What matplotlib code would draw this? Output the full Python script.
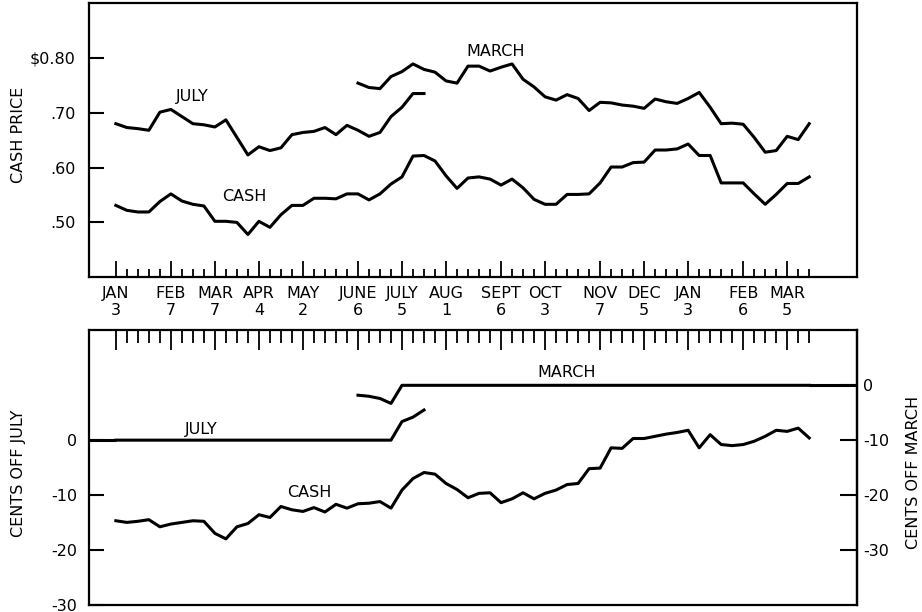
import numpy as np
import matplotlib.pyplot as plt

plt.rcParams.update({
    'font.family': 'DejaVu Sans',
    'font.size': 11.5,
    'axes.linewidth': 1.6,
    'lines.linewidth': 2.2,
    'lines.solid_joinstyle': 'round',
})

# Weekly quotations, week 0 = JAN 3
# Upper panel: prices in dollars
CASH = [0.531, 0.522, 0.519, 0.519, 0.538, 0.552, 0.539, 0.533, 0.530, 0.502,
        0.502, 0.500, 0.478, 0.502, 0.491, 0.514, 0.531, 0.531, 0.544, 0.544,
        0.543, 0.552, 0.552, 0.541, 0.552, 0.570, 0.583, 0.621, 0.622, 0.612,
        0.585, 0.562, 0.581, 0.583, 0.579, 0.568, 0.579, 0.563, 0.542, 0.533,
        0.533, 0.551, 0.551, 0.552, 0.572, 0.601, 0.601, 0.609, 0.610, 0.632,
        0.632, 0.634, 0.643, 0.622, 0.622, 0.572, 0.572, 0.572, 0.552, 0.533,
        0.551, 0.571, 0.571, 0.583]
JULY = [0.680, 0.673, 0.671, 0.668, 0.701, 0.706, 0.693, 0.680, 0.678, 0.674,
        0.687, 0.655, 0.623, 0.638, 0.631, 0.636, 0.660, 0.664, 0.666, 0.673,
        0.660, 0.677, 0.668, 0.657, 0.664, 0.693, 0.710, 0.735, 0.735]
MARCH_START = 22
MARCH = [0.754, 0.746, 0.744, 0.766, 0.775, 0.789, 0.779, 0.774, 0.758, 0.754,
         0.785, 0.785, 0.776, 0.783, 0.789, 0.761, 0.747, 0.729, 0.723, 0.733,
         0.726, 0.704, 0.719, 0.718, 0.714, 0.712, 0.708, 0.725, 0.720, 0.717,
         0.726, 0.737, 0.710, 0.680, 0.681, 0.679, 0.655, 0.628, 0.631, 0.657,
         0.651, 0.680]

# Lower panel: cents off July up to the switch week, cents off March after it
CASH_OFF_JULY = [-14.7, -15.0, -14.8, -14.5, -15.8, -15.3, -15.0, -14.7, -14.8,
                 -17.0, -18.0, -15.8, -15.2, -13.6, -14.1, -12.1, -12.7, -13.0,
                 -12.3, -13.1, -11.7, -12.4, -11.6, -11.5, -11.2, -12.4]
CASH_OFF_MARCH = [-19.1, -17.0, -15.9, -16.2, -17.9, -19.0, -20.5, -19.7, -19.6,
                  -21.4, -20.7, -19.6, -20.7, -19.7, -19.1, -18.1, -17.9, -15.2,
                  -15.1, -11.4, -11.5, -9.7, -9.7, -9.3, -8.9, -8.6, -8.2, -11.4,
                  -9.0, -10.8, -11.0, -10.8, -10.2, -9.3, -8.2, -8.4, -7.8, -9.6]
JULY_OFF_JULY = [0, 0, 0, 0, 0, 0, 0, 0, 0, 0, 0, 0, 0,
                 0, 0, 0, 0, 0, 0, 0, 0, 0, 0, 0, 0, 0]
JULY_OFF_MARCH = [-6.6, -5.8, -4.5]
MARCH_OFF_JULY = [8.2, 8.0, 7.6, 6.7]
MARCH_OFF_MARCH = [0, 0, 0, 0, 0, 0, 0, 0, 0, 0, 0, 0, 0, 0, 0, 0, 0, 0, 0,
                   0, 0, 0, 0, 0, 0, 0, 0, 0, 0, 0, 0, 0, 0, 0, 0, 0, 0, 0]

# Month ticks (week index) and labels
MONTH_WEEKS = [0, 5, 9, 13, 17, 22, 26, 30, 35, 39, 44, 48, 52, 57, 61]
MONTH_NAMES = ['JAN', 'FEB', 'MAR', 'APR', 'MAY', 'JUNE', 'JULY', 'AUG',
               'SEPT', 'OCT', 'NOV', 'DEC', 'JAN', 'FEB', 'MAR']
MONTH_DAYS = ['3', '7', '7', '4', '2', '6', '5', '1', '6', '3', '7', '5', '3',
              '6', '5']
N_WEEKS = 64

# right scale (cents off March) sits 10 cents below the left one
OFFSET = 10
XLIM = (-2.4, 67.3)

fig = plt.figure(figsize=(9.22, 6.12), dpi=100)
ax1 = fig.add_axes([0.097, 0.547, 0.832, 0.448])
ax2 = fig.add_axes([0.097, 0.012, 0.832, 0.448])

weeks = np.arange(N_WEEKS)

# ---- upper panel
ax1.plot(weeks, CASH, color='black')
ax1.plot(np.arange(len(JULY)), JULY, color='black')
ax1.plot(np.arange(MARCH_START, MARCH_START + len(MARCH)), MARCH, color='black')

ax1.set_xlim(*XLIM)
ax1.set_ylim(0.40, 0.90)
ax1.set_yticks([0.5, 0.6, 0.7, 0.8])
ax1.set_yticklabels(['.50', '.60', '.70', '\\$0.80'])
ax1.set_xticks(MONTH_WEEKS)
ax1.set_xticklabels([f'{m}\n{d}' for m, d in zip(MONTH_NAMES, MONTH_DAYS)],
                    linespacing=1.2)
ax1.set_xticks(weeks, minor=True)
ax1.tick_params(axis='y', direction='in', length=11, width=1.5, pad=10)
ax1.tick_params(axis='x', which='major', direction='in', length=11.5,
                width=1.3, pad=6)
ax1.tick_params(axis='x', which='minor', direction='in', length=6, width=1.3)
ax1.set_ylabel('CASH PRICE')
ax1.yaxis.set_label_coords(-0.083, 0.52)

ax1.text(6.9, 0.729, 'JULY', ha='center', va='center')
ax1.text(11.7, 0.548, 'CASH', ha='center', va='center')
ax1.text(34.5, 0.811, 'MARCH', ha='center', va='center')

# ---- lower panel
to_march = lambda y: y - OFFSET
to_july = lambda y: y + OFFSET
sec = ax2.secondary_yaxis('right', functions=(to_march, to_july))

cash_y = list(CASH_OFF_JULY) + [to_july(v) for v in CASH_OFF_MARCH]
ax2.plot(weeks, cash_y, color='black')

july_x = np.arange(len(JULY_OFF_JULY) + len(JULY_OFF_MARCH))
july_y = list(JULY_OFF_JULY) + [to_july(v) for v in JULY_OFF_MARCH]
ax2.plot(july_x, july_y, color='black')
ax2.hlines(JULY_OFF_JULY[0], XLIM[0], 0, color='black', linewidth=2.2)

march_x = np.arange(MARCH_START, MARCH_START + len(MARCH_OFF_JULY) + len(MARCH_OFF_MARCH))
march_y = list(MARCH_OFF_JULY) + [to_july(v) for v in MARCH_OFF_MARCH]
ax2.plot(march_x, march_y, color='black')
ax2.hlines(to_july(MARCH_OFF_MARCH[-1]), N_WEEKS - 1, XLIM[1], color='black',
           linewidth=2.2)

ax2.set_xlim(*XLIM)
ax2.set_ylim(-30, 20)
ax2.set_yticks([0, -10, -20, -30])
ax2.set_yticklabels(['0', '-10', '-20', '-30'])
sec.set_yticks([0, -10, -20, -30])
sec.set_yticklabels(['0', '-10', '-20', '-30'])
ax2.xaxis.tick_top()
ax2.set_xticks(MONTH_WEEKS)
ax2.set_xticks(weeks, minor=True)
ax2.tick_params(axis='x', which='major', direction='in', length=14.5,
                width=1.3, labeltop=False)
ax2.tick_params(axis='x', which='minor', direction='in', length=9.5, width=1.3)
ax2.tick_params(axis='y', direction='in', length=11, width=1.5, pad=9)
sec.tick_params(axis='y', direction='in', length=12, width=1.5, pad=5)
sec.spines['right'].set_linewidth(1.6)

ax2.set_ylabel('CENTS OFF JULY')
ax2.yaxis.set_label_coords(-0.083, 0.48)
sec.set_ylabel('CENTS OFF MARCH')
sec.yaxis.set_label_coords(1.064, 0.484, transform=ax2.transAxes)

ax2.text(7.8, 2.0, 'JULY', ha='center', va='center')
ax2.text(17.6, -9.5, 'CASH', ha='center', va='center')
ax2.text(41.0, to_july(2.4), 'MARCH', ha='center', va='center')

fig.savefig('out.png', dpi=100)
